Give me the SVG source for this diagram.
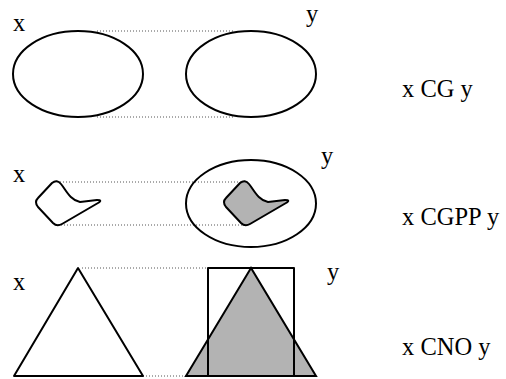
<svg xmlns="http://www.w3.org/2000/svg" width="506" height="379" viewBox="0 0 506 379">
<style>
.s{fill:none;stroke:#000;stroke-width:2;stroke-linejoin:round}
.g{fill:#b3b3b3}
.d{fill:none;stroke:#555;stroke-width:1;stroke-dasharray:1 2}
text{font-family:"Liberation Serif","Times New Roman","DejaVu Serif",serif;font-size:24.5px;fill:#000}
</style>
<defs>
<path id="blob" d="M52,183 Q57,179 61,184 C66,190 70,200 80,202 L97,200 Q103,200 98,203 L62,224 Q57,227 53,223 L38,207 Q34,202 38,198 Z"/>
</defs>
<rect width="506" height="379" fill="#fff"/>
<g id="connectors">
<line class="d" x1="97" y1="31" x2="235" y2="31"/>
<line class="d" x1="97" y1="117" x2="235" y2="117"/>
<line class="d" x1="60" y1="182" x2="244" y2="182"/>
<line class="d" x1="58" y1="225" x2="242" y2="225"/>
<line class="d" x1="82" y1="268" x2="207" y2="268"/>
<line class="d" x1="143" y1="376" x2="186" y2="376"/>
</g>
<g id="cg-x"><ellipse class="s" cx="78" cy="74" rx="65" ry="43"/></g>
<g id="cg-y"><ellipse class="s" cx="251" cy="74" rx="65" ry="43"/></g>
<g id="cgpp-x"><use href="#blob" class="s"/></g>
<g id="cgpp-y">
<ellipse class="s" cx="251" cy="203.5" rx="65" ry="43.5"/>
<use href="#blob" transform="translate(188,0)" class="g" stroke="#000" stroke-width="2" stroke-linejoin="round"/>
</g>
<g id="cno-x"><polygon class="s" points="78,268 14,376 143,376"/></g>
<g id="cno-y">
<polygon class="g" stroke="#000" stroke-width="2" stroke-linejoin="miter" points="251,268 186,376 316,376"/>
<rect class="s" x="208" y="268" width="86" height="108"/>
</g>
<g id="labels">
<text x="13" y="31">x</text>
<text x="306" y="22">y</text>
<text x="402" y="97">x CG y</text>
<text x="13" y="182">x</text>
<text x="321" y="164">y</text>
<text x="402" y="225">x CGPP y</text>
<text x="13" y="290">x</text>
<text x="327" y="280">y</text>
<text x="402" y="355">x CNO y</text>
</g>
</svg>
